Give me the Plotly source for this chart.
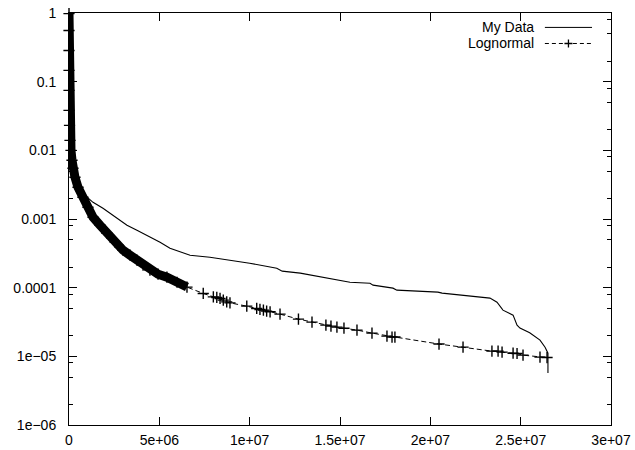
import plotly.graph_objects as go

# Empirical complementary CDF of the measured data
my_x = [0, 2.8e4, 5.5e4, 1.1e5, 2.2e5, 4.4e5, 8.9e5, 1.33e6, 1.88e6, 2.44e6,
        3.21e6, 3.76e6, 4.32e6, 5.04e6, 5.59e6, 6.70e6, 7.80e6, 8.52e6, 1.00e7,
        1.15e7, 1.18e7, 1.28e7, 1.555e7, 1.666e7, 1.683e7, 1.793e7, 1.815e7,
        2.042e7, 2.065e7, 2.33e7, 2.369e7, 2.402e7, 2.458e7, 2.48e7, 2.496e7,
        2.55e7, 2.607e7, 2.635e7, 2.651e7, 2.651e7]
my_y = [1.0, 0.285, 0.053, 0.014, 0.0061, 0.00366, 0.00221, 0.00175, 0.00143,
        0.00113, 0.00081, 0.000686, 0.00058, 0.000459, 0.000376, 0.000297,
        0.000278, 0.00026, 0.000227, 0.000192, 0.000174, 0.000163, 0.000120,
        0.000116, 0.000109, 9.84e-5, 9.2e-5, 8.6e-5, 8.32e-5, 7.04e-5, 6.15e-5,
        4.71e-5, 3.98e-5, 2.85e-5, 2.58e-5, 2.2e-5, 1.72e-5, 1.36e-5, 1.11e-5,
        5.7e-6]

# Fitted lognormal, evaluated at the sample points
ln_x = [0, 0, 0, 0, 0, 0, 2.8e4, 5.5e4, 1.1e5, 1.66e5, 2.2e5, 3.3e5, 5.0e5,
        7.7e5, 1.05e6, 1.33e6, 1.72e6, 2.10e6, 2.55e6, 2.99e6, 3.38e6, 3.76e6,
        4.10e6, 4.48e6, 4.93e6, 5.42e6, 5.98e6, 6.53e6,
        7.43e6, 7.99e6, 8.18e6, 8.36e6, 8.54e6, 8.73e6, 8.91e6, 9.84e6,
        1.039e7, 1.057e7, 1.076e7, 1.094e7, 1.113e7, 1.168e7, 1.27e7,
        1.345e7, 1.422e7, 1.450e7, 1.483e7, 1.522e7, 1.594e7, 1.677e7,
        1.760e7, 1.788e7, 1.804e7, 2.048e7, 2.181e7, 2.341e7, 2.375e7,
        2.397e7, 2.458e7, 2.48e7, 2.513e7, 2.607e7, 2.646e7]
ln_y = [0.98, 0.556, 0.285, 0.146, 0.0746, 0.0382, 0.0231, 0.01397, 0.0100,
        0.00716, 0.00547, 0.00405, 0.0029, 0.00207, 0.00148, 0.00106, 0.00081,
        0.00062, 0.00046, 0.000351, 0.000297, 0.000251, 0.000212, 0.000180,
        0.000157, 0.000142, 0.000120, 0.000102,
        8.24e-5, 7.35e-5, 7.2e-5, 6.96e-5, 6.58e-5, 6.21e-5, 6.01e-5, 5.38e-5,
        4.98e-5, 4.82e-5, 4.71e-5, 4.55e-5, 4.45e-5, 4.12e-5, 3.48e-5,
        3.15e-5, 2.85e-5, 2.75e-5, 2.66e-5, 2.57e-5, 2.41e-5, 2.18e-5,
        1.97e-5, 1.91e-5, 1.91e-5, 1.51e-5, 1.36e-5, 1.19e-5, 1.19e-5,
        1.15e-5, 1.11e-5, 1.10e-5, 1.04e-5, 9.75e-6, 9.6e-6]
n_dense = 28  # samples packed so tightly that their markers merge into a band

x_ticks = [0, 5e6, 1e7, 1.5e7, 2e7, 2.5e7, 3e7]
x_labels = ["0", "5e+06", "1e+07", "1.5e+07", "2e+07", "2.5e+07", "3e+07"]
y_ticks = [1e-6, 1e-5, 1e-4, 1e-3, 1e-2, 1e-1, 1]
y_labels = ["1e\u221206", "1e\u221205", "0.0001", "0.001", "0.01", "0.1", "1"]
y_minor = [m * 10.0 ** e for e in range(-6, 0) for m in (2, 5, 8)]

FONT = "Liberation Sans, Arial, Helvetica, sans-serif"

fig = go.Figure()

fig.add_trace(go.Scatter(
    x=ln_x[:n_dense], y=ln_y[:n_dense], mode="lines",
    line=dict(color="black", width=9), hoverinfo="skip", showlegend=False))

fig.add_trace(go.Scatter(
    x=my_x, y=my_y, mode="lines", name="My Data",
    line=dict(color="black", width=1.1), showlegend=False))

fig.add_trace(go.Scatter(
    x=ln_x, y=ln_y, mode="lines+markers", name="Lognormal",
    line=dict(color="black", width=1, dash="5px,3px"),
    marker=dict(symbol="cross-thin", size=8,
                line=dict(color="black", width=1.4)),
    cliponaxis=False, showlegend=False))

# Key in the top-right corner: label on the left, sample on the right
key_text_x = 0.862
key_line = (0.878, 0.965)
rows = [(0.965, "My Data", None), (0.926, "Lognormal", "4px,3px")]
shapes = []
annotations = []
for yk, label, dash in rows:
    annotations.append(dict(
        xref="paper", yref="paper", x=key_text_x, y=yk, text=label,
        showarrow=False, xanchor="right", yanchor="middle",
        font=dict(family=FONT, size=14, color="black")))
    shapes.append(dict(
        type="line", xref="paper", yref="paper",
        x0=key_line[0], x1=key_line[1], y0=yk, y1=yk,
        line=dict(color="black", width=1, dash=dash or "solid")))
cx = (key_line[0] + key_line[1]) / 2
cy = rows[1][0]
dx, dy = 4 / 542, 4 / 412
shapes.append(dict(type="path", xref="paper", yref="paper",
                   path=f"M {cx - dx} {cy} L {cx + dx} {cy} M {cx} {cy - dy} L {cx} {cy + dy}",
                   line=dict(color="black", width=1.3)))

axis_common = dict(
    showline=True, linecolor="black", linewidth=1, mirror="ticks",
    ticks="inside", ticklen=8, tickwidth=1, tickcolor="black",
    showgrid=False, zeroline=False,
    tickfont=dict(family=FONT, size=14, color="black"),
)

fig.update_xaxes(range=[0, 3e7], tickmode="array", tickvals=x_ticks,
                 ticktext=x_labels, ticklabelstandoff=2, **axis_common)
fig.update_yaxes(type="log", range=[-6, 0], tickmode="array", tickvals=y_ticks,
                 ticktext=y_labels, ticklabelstandoff=9,
                 minor=dict(tickmode="array", tickvals=y_minor, ticks="inside",
                            ticklen=4, tickcolor="black", tickwidth=1),
                 **axis_common)

fig.update_layout(
    width=635, height=450,
    margin=dict(l=69, r=24, t=13, b=25, autoexpand=False),
    paper_bgcolor="white", plot_bgcolor="white",
    font=dict(family=FONT, size=14, color="black"),
    shapes=shapes, annotations=annotations, showlegend=False,
)

fig.write_html("out.html")
